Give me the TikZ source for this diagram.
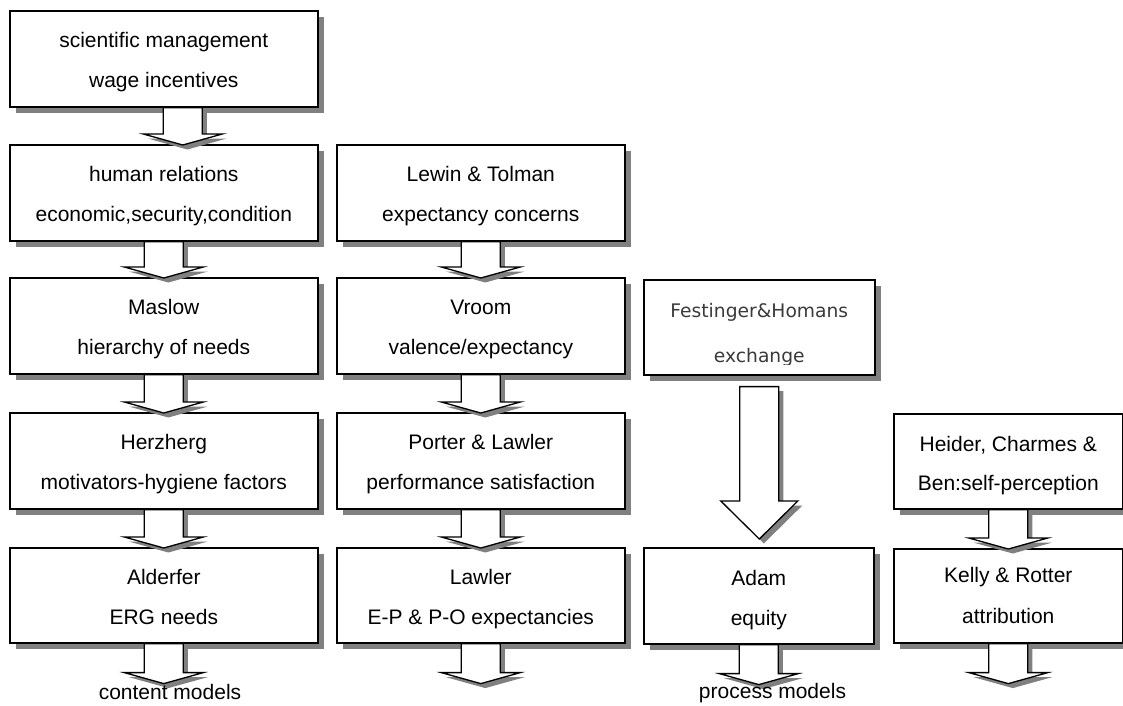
\documentclass[tikz,border=0pt]{standalone}
\usepackage{fontspec}
\setmainfont{Liberation Sans}
\newfontfamily\softfont{DejaVu Sans}
\usetikzlibrary{calc,shadows}
\definecolor{shadowgrey}{HTML}{808080}
\definecolor{fadedtext}{HTML}{3A3A3A}
\tikzset{
  box/.style={draw=black, line width=1.6pt, fill=white, rectangle, inner sep=0pt,
    anchor=north west,
    general shadow={fill=shadowgrey, shadow xshift=6pt, shadow yshift=-6pt}},
  txt/.style={font=\fontsize{21}{24}\selectfont, anchor=base, inner sep=0pt, text=black},
  ftxt/.style={font=\softfont\fontsize{18.7}{22}\selectfont, anchor=base, inner sep=0pt, text=fadedtext},
  blockarrow/.style={draw=black, line width=1.3pt, fill=white, line join=miter,
    general shadow={fill=shadowgrey, shadow xshift=4.5pt, shadow yshift=-4.5pt}},
}
% #1 source node, #2 tip point, #3 x offset (pt)
\newcommand\linkarrow[3]{%
  \draw[blockarrow] let \p1=(#1.south), \p2=(#2) in
    (\x1+#3pt-19.5pt,\y1) -- (\x1+#3pt-19.5pt,\y2+11pt) -- (\x1+#3pt-39.5pt,\y2+11pt)
    -- (\x1+#3pt,\y2) -- (\x1+#3pt+39.5pt,\y2+11pt) -- (\x1+#3pt+19.5pt,\y2+11pt)
    -- (\x1+#3pt+19.5pt,\y1) -- cycle;}
\begin{document}
\begin{tikzpicture}[x=1pt,y=-1pt]
\useasboundingbox (0,0) rectangle (1123,705);
% column 1
\node[box, minimum width=308pt, minimum height=96pt] (sm)  at (9,10)  {};
\node[box, minimum width=308pt, minimum height=96pt] (hr)  at (9,144) {};
\node[box, minimum width=308pt, minimum height=96pt] (mas) at (9,277) {};
\node[box, minimum width=308pt, minimum height=96pt] (her) at (9,412) {};
\node[box, minimum width=308pt, minimum height=95pt] (ald) at (9,547) {};
% column 2
\node[box, minimum width=288pt, minimum height=96pt] (lew) at (336,144) {};
\node[box, minimum width=288pt, minimum height=96pt] (vro) at (336,277) {};
\node[box, minimum width=288pt, minimum height=96pt] (por) at (336,412) {};
\node[box, minimum width=288pt, minimum height=95pt] (law) at (336,547) {};
% column 3
\node[box, minimum width=231pt, minimum height=95pt] (fest) at (643,279) {};
\node[box, minimum width=230pt, minimum height=96pt] (adam) at (643,547) {};
% column 4
\node[box, minimum width=229pt, minimum height=95pt] (hei) at (893,413) {};
\node[box, minimum width=229pt, minimum height=94pt] (kel) at (893,548) {};

% texts
\node[txt] (sm1) at ([yshift=-37pt]sm.north) {scientific management};
\node[txt] (sm2) at ([yshift=-77pt]sm.north) {wage incentives};
\node[txt] (hr1) at ([yshift=-37pt]hr.north) {human relations};
\node[txt] (hr2) at ([yshift=-77pt]hr.north) {economic,security,condition};
\node[txt] (mas1) at ([yshift=-37pt]mas.north) {Maslow};
\node[txt] (mas2) at ([yshift=-77pt]mas.north) {hierarchy of needs};
\node[txt] (her1) at ([yshift=-37pt]her.north) {Herzherg};
\node[txt] (her2) at ([yshift=-77pt]her.north) {motivators-hygiene factors};
\node[txt] (ald1) at ([yshift=-37pt]ald.north) {Alderfer};
\node[txt] (ald2) at ([yshift=-77pt]ald.north) {ERG needs};
\node[txt] (lew1) at ([yshift=-37pt]lew.north) {Lewin \& Tolman};
\node[txt] (lew2) at ([yshift=-77pt]lew.north) {expectancy concerns};
\node[txt] (vro1) at ([yshift=-37pt]vro.north) {Vroom};
\node[txt] (vro2) at ([yshift=-77pt]vro.north) {valence/expectancy};
\node[txt] (por1) at ([yshift=-37pt]por.north) {Porter \& Lawler};
\node[txt] (por2) at ([yshift=-77pt]por.north) {performance satisfaction};
\node[txt] (law1) at ([yshift=-37pt]law.north) {Lawler};
\node[txt] (law2) at ([yshift=-77pt]law.north) {E-P \& P-O expectancies};
\begin{scope}
\clip (643,279) rectangle (874,364);
\node[ftxt] (fest1) at ([yshift=-38pt]fest.north) {Festinger\&Homans};
\node[ftxt] (fest2) at ([yshift=-83pt]fest.north) {exchange};
\end{scope}
\node[txt] (adam1) at ([yshift=-38pt]adam.north) {Adam};
\node[txt] (adam2) at ([yshift=-78pt]adam.north) {equity};
\node[txt] (hei1) at ([yshift=-38pt]hei.north) {Heider, Charmes \&};
\node[txt] (hei2) at ([yshift=-77pt]hei.north) {Ben:self-perception};
\node[txt] (kel1) at ([yshift=-34pt]kel.north) {Kelly \& Rotter};
\node[txt] (kel2) at ([yshift=-75pt]kel.north) {attribution};

% end points of the bottom arrows
\coordinate (e1) at ([yshift=-40pt]ald.south);
\coordinate (e2) at ([yshift=-40pt]law.south);
\coordinate (e3) at ([yshift=-40pt]adam.south);
\coordinate (e4) at ([yshift=-40pt]kel.south);

% arrows
\linkarrow{sm}{[yshift=-1pt]hr.north}{19}
\linkarrow{hr}{[yshift=-1pt]mas.north}{0}
\linkarrow{mas}{[yshift=-1pt]her.north}{0}
\linkarrow{her}{[yshift=-1pt]ald.north}{0}
\linkarrow{ald}{e1}{0}
\linkarrow{lew}{[yshift=-1pt]vro.north}{0}
\linkarrow{vro}{[yshift=-1pt]por.north}{0}
\linkarrow{por}{[yshift=-1pt]law.north}{0}
\linkarrow{law}{e2}{0}
\linkarrow{adam}{e3}{0}
\linkarrow{hei}{[yshift=-1pt]kel.north}{0}
\linkarrow{kel}{e4}{0}
\draw[blockarrow] let \p1=(fest.south), \p2=(adam.north) in
  (\x1-19.5pt,\y1-11pt) -- (\x1-19.5pt,\y2+46pt) -- (\x1-38.5pt,\y2+46pt)
  -- (\x1,\y2+8pt) -- (\x1+38.5pt,\y2+46pt) -- (\x1+19.5pt,\y2+46pt)
  -- (\x1+19.5pt,\y1-11pt) -- cycle;

% bottom labels
\node[txt] (content) at (170,699) {content models};
\node[txt] (process) at (772.5,698) {process models};
\end{tikzpicture}
\end{document}
